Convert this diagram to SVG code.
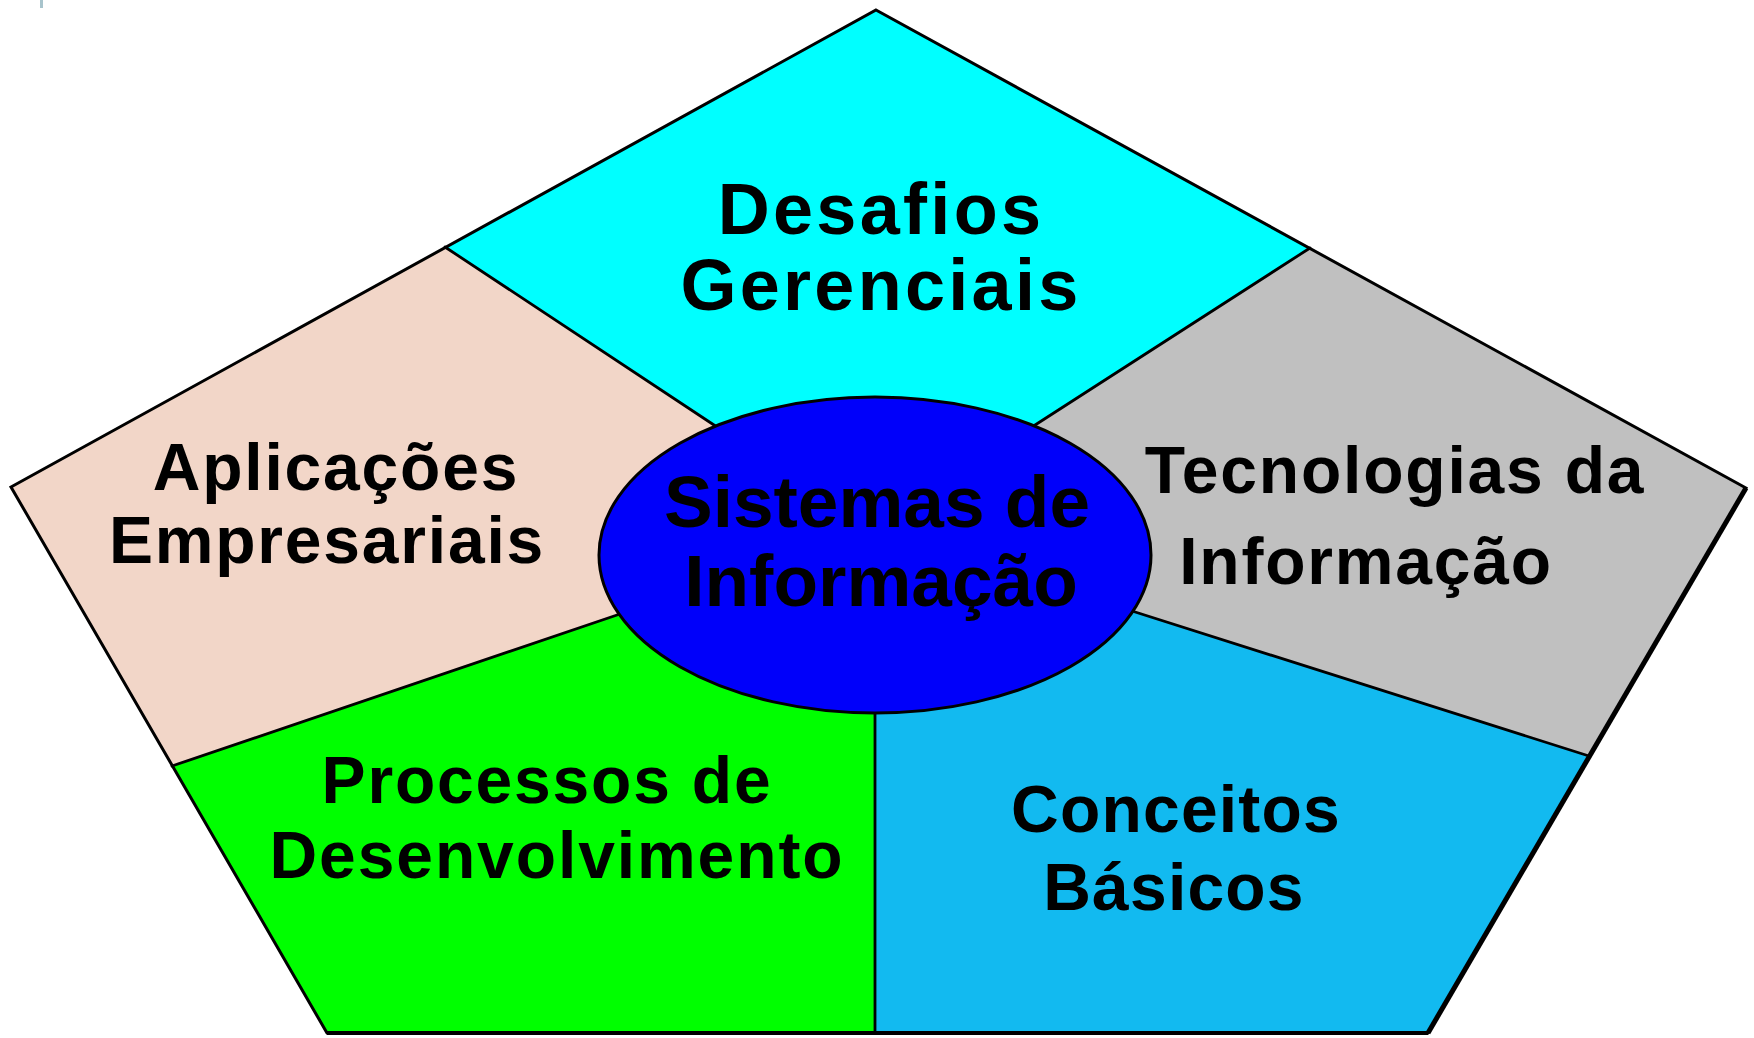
<svg xmlns="http://www.w3.org/2000/svg" width="1754" height="1038" viewBox="0 0 1754 1038">
  <style>
    .lbl { font-family: "Liberation Sans", Arial, sans-serif; font-weight: bold; fill: #000; text-anchor: middle; }
    .big { font-size: 72px; letter-spacing: 3.3px; }
    .mid { font-size: 66px; letter-spacing: 1.8px; }
    .ctr { font-size: 73px; letter-spacing: 0px; }
    .div { stroke: #000; stroke-width: 2.8; fill: none; stroke-linecap: round; }
    .sector { stroke: none; }
  </style>
  <rect width="1754" height="1038" fill="#ffffff"/>
  <rect x="40" y="0" width="3" height="8" fill="#A8C4CC"/>

  <g id="desafios-gerenciais">
    <polygon class="sector" fill="#00FFFF" points="876,10 1310,248 1037,423 875,555 715,425 445,247"/>
    <text class="lbl big" x="881" y="234">Desafios</text>
    <text class="lbl big" x="881" y="310">Gerenciais</text>
  </g>

  <g id="tecnologias-da-informacao">
    <polygon class="sector" fill="#C0C0C0" points="1310,248 1746,488 1589,756 1138,613 875,555 1037,423"/>
    <text class="lbl mid" x="1395" y="493">Tecnologias da</text>
    <text class="lbl mid" x="1366" y="584">Informação</text>
  </g>

  <g id="conceitos-basicos">
    <polygon class="sector" fill="#12BAF0" points="1589,756 1428,1033 875,1033 875,555 1138,613"/>
    <text class="lbl mid" x="1176" y="832" style="letter-spacing:1.2px">Conceitos</text>
    <text class="lbl mid" x="1174" y="910" style="letter-spacing:1.2px">Básicos</text>
  </g>

  <g id="processos-de-desenvolvimento">
    <polygon class="sector" fill="#00FF00" points="875,1033 327,1033 172,766 614,616 875,555"/>
    <text class="lbl mid" x="547" y="803">Processos de</text>
    <text class="lbl mid" x="557" y="878" style="letter-spacing:1.9px">Desenvolvimento</text>
  </g>

  <g id="aplicacoes-empresariais">
    <polygon class="sector" fill="#F2D6C8" points="172,766 11,487 445,247 715,425 875,555 614,616"/>
    <text class="lbl mid" x="336" y="490">Aplicações</text>
    <text class="lbl mid" x="327" y="563">Empresariais</text>
  </g>

  <g id="connectors">
    <line class="div" x1="445" y1="247" x2="720" y2="429"/>
    <line class="div" x1="1310" y1="248" x2="1032" y2="427"/>
    <line class="div" x1="172" y1="766" x2="620" y2="614"/>
    <line class="div" x1="1589" y1="756" x2="1132" y2="611"/>
    <line class="div" x1="875" y1="705" x2="875" y2="1033"/>
    <polygon points="876,10 1746,488 1428,1033 327,1033 11,487" fill="none" stroke="#000" stroke-width="3" stroke-linejoin="miter"/>
    <line x1="1746" y1="488" x2="1428" y2="1033" stroke="#000" stroke-width="5"/>
    <line x1="327" y1="1033" x2="1428" y2="1033" stroke="#000" stroke-width="4"/>
  </g>

  <g id="sistemas-de-informacao">
    <ellipse cx="875" cy="555" rx="276" ry="158" fill="#0000FA" stroke="#000" stroke-width="3"/>
    <text class="lbl ctr" x="877" y="527">Sistemas de</text>
    <text class="lbl ctr" x="881" y="606">Informação</text>
  </g>
</svg>
